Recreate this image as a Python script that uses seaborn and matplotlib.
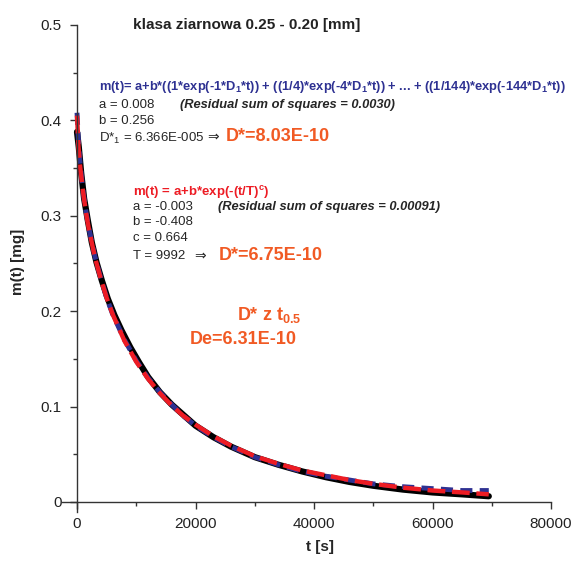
import numpy as np
import pandas as pd
import seaborn as sns
import matplotlib.pyplot as plt
from matplotlib.ticker import MultipleLocator, FuncFormatter

# measured curve (black)
t_obs = [0, 300, 700, 1200, 1800, 2500, 3300, 4200, 5200, 6300, 7500, 9000, 10500,
         12000, 14000, 16000, 18000, 20000, 23000, 26000, 30000, 34000, 38000, 42000,
         46000, 50000, 55000, 60000, 65000, 69500]
m_obs = [0.388, 0.372, 0.345, 0.318, 0.296, 0.272, 0.251, 0.232, 0.213, 0.196, 0.180,
         0.162, 0.146, 0.131, 0.115, 0.102, 0.091, 0.080, 0.068, 0.058, 0.047, 0.039,
         0.032, 0.026, 0.021, 0.017, 0.013, 0.010, 0.008, 0.006]

# fitted curves
t_fit = [0, 250, 500, 1000, 1500, 2000, 3000, 4000, 5000, 6000, 8000, 10000, 12000,
         14000, 16000, 18000, 20000, 23000, 26000, 30000, 34000, 38000, 42000, 46000,
         50000, 55000, 60000, 65000, 69500]
m_series = [0.408, 0.378, 0.357, 0.327, 0.305, 0.287, 0.258, 0.235, 0.214, 0.197, 0.170,
            0.148, 0.130, 0.115, 0.102, 0.090, 0.080, 0.068, 0.058, 0.047, 0.039, 0.032,
            0.027, 0.023, 0.019, 0.016, 0.014, 0.012, 0.012]
m_stretch = [0.405, 0.372, 0.353, 0.326, 0.304, 0.286, 0.257, 0.234, 0.214, 0.197, 0.169,
             0.147, 0.129, 0.114, 0.101, 0.090, 0.081, 0.069, 0.059, 0.048, 0.040, 0.033,
             0.028, 0.023, 0.019, 0.015, 0.012, 0.010, 0.008]

sns.set_style("ticks")
plt.rcParams['font.family'] = ['Liberation Sans', 'DejaVu Sans']
plt.rcParams['mathtext.fontset'] = 'custom'
plt.rcParams['mathtext.rm'] = 'Liberation Sans'
plt.rcParams['mathtext.it'] = 'Liberation Sans:italic'
plt.rcParams['mathtext.bf'] = 'Liberation Sans:bold'

W, H = 579, 563
fig = plt.figure(figsize=(W / 100, H / 100), dpi=100)
ax = fig.add_axes([62.2 / W, 1 - 511.5 / H, (551 - 62.2) / W, (511.5 - 25) / H])

BLUE = '#2E3192'
RED = '#ED1C24'
ORANGE = '#F15A24'

sns.lineplot(x=t_obs, y=m_obs, ax=ax, color='black', linewidth=4.5)
sns.lineplot(x=t_fit, y=m_series, ax=ax, color=BLUE, linewidth=3.5)
ax.lines[-1].set_dashes([2.5, 1.5])
sns.lineplot(x=t_fit, y=m_stretch, ax=ax, color=RED, linewidth=3.2)
ax.lines[-1].set_dashes([4, 1.5])

ax.set_xlim(-2500, 80000)
ax.set_ylim(-0.01, 0.5)
ax.spines['left'].set_position(('data', 0))
ax.spines['bottom'].set_position(('data', 0))
ax.spines['right'].set_visible(False)
ax.spines['top'].set_visible(False)
for s in ['left', 'bottom']:
    ax.spines[s].set_color('#333333')
    ax.spines[s].set_linewidth(1.0)

ax.xaxis.set_major_locator(MultipleLocator(20000))
ax.xaxis.set_minor_locator(MultipleLocator(10000))
ax.yaxis.set_major_locator(MultipleLocator(0.1))
ax.yaxis.set_minor_locator(MultipleLocator(0.05))
ax.yaxis.set_major_formatter(FuncFormatter(lambda v, p: '0' if abs(v) < 1e-9 else f'{v:.1f}'))
ax.xaxis.set_major_formatter(FuncFormatter(lambda v, p: f'{v:.0f}'))
ax.tick_params(which='major', length=5, width=1, color='#333333', labelsize=11,
               labelcolor='#222222', pad=6)
ax.tick_params(which='minor', length=3, width=1, color='#333333')

ax.set_xlabel('t [s]', fontsize=11, fontweight='bold')
ax.set_ylabel('m(t) [mg]', fontsize=11, fontweight='bold')
ax.xaxis.set_label_coords((320 - 62.2) / (551 - 62.2), (511.5 - 540) / (511.5 - 25))
ax.yaxis.set_label_coords((25 - 62.2) / (551 - 62.2), (511.5 - 262) / (511.5 - 25))


def txt(px, py, s, **kw):
    kw.setdefault('fontsize', 9.5)
    fig.text(px / W, 1 - py / H, s, va='center', ha='left', **kw)


txt(133, 25, 'klasa ziarnowa 0.25 - 0.20 [mm]', fontsize=11, fontweight='bold', color='#222222')

txt(99, 87, r'm(t)= a+b*((1*exp(-1*D$_\mathbf{1}$*t)) + ((1/4)*exp(-4*D$_\mathbf{1}$*t)) + ... + ((1/144)*exp(-144*D$_\mathbf{1}$*t))',
    fontsize=9.3, fontweight='bold', color=BLUE)
txt(99, 105, 'a = 0.008')
txt(180, 105, '(Residual sum of squares = 0.0030)', fontsize=9.3, fontweight='bold', style='italic')
txt(99, 121, 'b = 0.256')
txt(99, 138, r'D*$_1$ = 6.366E-005')
txt(207, 137, '⇒', family='DejaVu Sans', fontsize=10)
txt(226, 136, 'D*=8.03E-10', fontsize=13, fontweight='bold', color=ORANGE)

txt(133, 193, r'm(t) = a+b*exp(-(t/T)$^\mathbf{c}$)', fontsize=9.5, fontweight='bold', color=RED)
txt(133, 207, 'a = -0.003')
txt(218, 207, '(Residual sum of squares = 0.00091)', fontsize=9.3, fontweight='bold', style='italic')
txt(133, 222, 'b = -0.408')
txt(133, 238, 'c = 0.664')
txt(133, 256, 'T = 9992')
txt(194, 256, '⇒', family='DejaVu Sans', fontsize=10)
txt(219, 255, 'D*=6.75E-10', fontsize=13, fontweight='bold', color=ORANGE)

txt(237, 315, r'D* z t$_{\mathbf{0.5}}$', fontsize=13, fontweight='bold', color=ORANGE)
txt(190, 339, 'De=6.31E-10', fontsize=13, fontweight='bold', color=ORANGE)

fig.savefig('out.png', dpi=100)
